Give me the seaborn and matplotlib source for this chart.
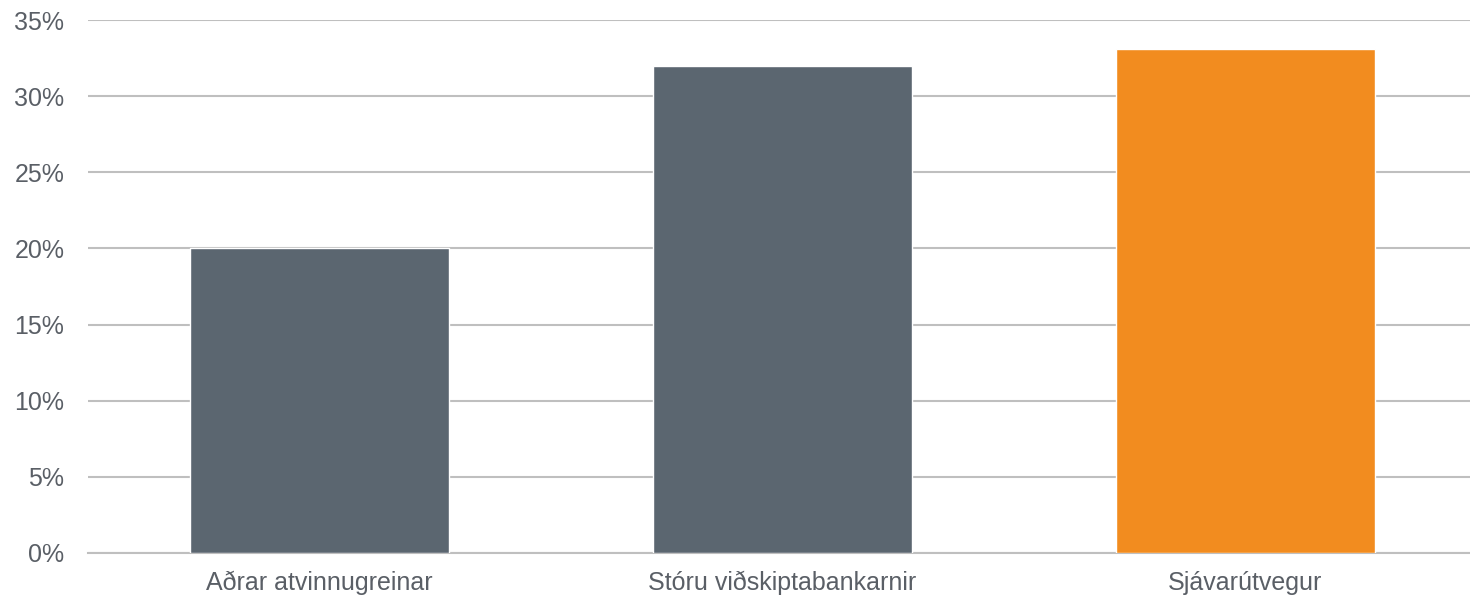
import matplotlib
matplotlib.use("Agg")
import matplotlib.pyplot as plt
import seaborn as sns
import pandas as pd
from matplotlib.ticker import FuncFormatter

# -------------------------
# Data
# -------------------------
categories = ["Aðrar atvinnugreinar", "Stóru viðskiptabankarnir", "Sjávarútvegur"]
values = [20.0, 32.0, 33.1]
bar_colors = ["#5B6670", "#5B6670", "#F28C1F"]

df = pd.DataFrame({"Category": categories, "Value": values})

# -------------------------
# Style
# -------------------------
sns.set_style("white")
plt.rcParams["font.family"] = ["Liberation Sans", "DejaVu Sans"]

fig = plt.figure(figsize=(14.7, 5.99), dpi=100)
ax = fig.add_axes([88 / 1470, 46 / 599, 1 - 88 / 1470, (553 - 20) / 599])

sns.barplot(
    data=df,
    x="Category",
    y="Value",
    hue="Category",
    palette=bar_colors,
    legend=False,
    width=0.56,
    saturation=1,
    ax=ax,
    zorder=3,
)

ax.set_ylim(0, 35)
ax.set_xlim(-0.5, 2.485)
ax.set_yticks(range(0, 36, 5))
ax.yaxis.set_major_formatter(FuncFormatter(lambda v, p: f"{int(v)}%"))

ax.yaxis.grid(True, color="#BFBFBF", linewidth=1.5, zorder=0)
ax.xaxis.grid(False)
for side in ["top", "right", "left"]:
    ax.spines[side].set_visible(False)
ax.spines["bottom"].set_color("#BFBFBF")
ax.spines["bottom"].set_linewidth(1.5)

ax.tick_params(axis="y", length=0, pad=17, labelsize=18, labelcolor="#5A5F66")
ax.tick_params(axis="x", length=0, pad=13, labelsize=18, labelcolor="#5A5F66")

ax.set_xlabel("")
ax.set_ylabel("")

fig.savefig("out.png", dpi=100)
